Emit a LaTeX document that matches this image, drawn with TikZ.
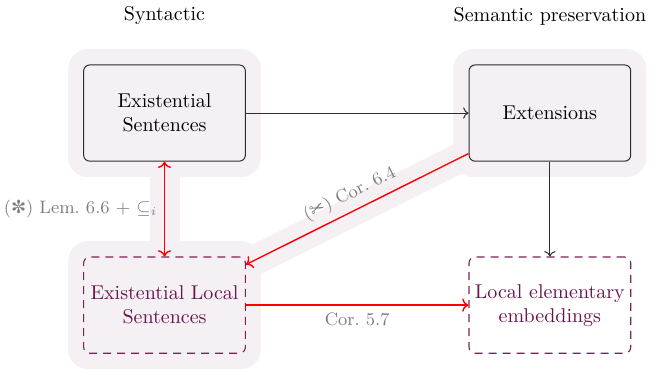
\documentclass[tikz,border=0pt]{standalone}
\usepackage{fontspec}
\newfontfamily\dingfont{DejaVu Sans}
\usetikzlibrary{arrows.meta, positioning}
\definecolor{halofill}{RGB}{245, 240, 244}
\definecolor{boxline}{RGB}{45, 45, 45}
\definecolor{plum}{RGB}{120, 35, 88}
\definecolor{plumtext}{RGB}{105, 20, 75}
\definecolor{labelgray}{RGB}{125, 125, 125}

\begin{document}
\begin{tikzpicture}[
  halo/.style={fill=halofill, rounded corners=10pt, minimum width=3.39cm, minimum height=2.25cm},
  haloband/.style={draw=halofill, line width=15pt},
  synbox/.style={draw=boxline, fill=halofill, rounded corners=3pt, line width=0.5pt, minimum width=2.83cm, minimum height=1.69cm, inner sep=2pt, text width=2.7cm, align=center},
  localbox/.style={draw=plum, dash pattern=on 4pt off 3pt, rounded corners=3pt, line width=0.55pt, minimum width=2.83cm, minimum height=1.69cm, inner sep=2pt, text width=2.7cm, align=center, text=plumtext},
  plainarrow/.style={-{To}, boxline, line width=0.5pt},
  redarrow/.style={-{To}, red, line width=0.7pt},
  reflabel/.style={text=labelgray, font=\small}
]
  \useasboundingbox (0, 0) rectangle (11.77, -6.467);

  % Column titles
  \node (syntitle) at (2.89, -0.28) {Syntactic};
  \node (semtitle) at (9.66, -0.28) {Semantic preservation};

  % Highlighted background
  \node[halo] (eshalo) at (2.89, -1.986) {};
  \node[halo] (exthalo) at (9.66, -1.986) {};
  \node[halo] (elshalo) at (2.89, -5.36) {};
  \draw[haloband] (eshalo.center) -- (elshalo.center);
  \draw[haloband] (exthalo.center) -- (elshalo.center);

  % Boxes
  \node[synbox] (es) at (2.89, -1.986) {Existential\\Sentences};
  \node[synbox] (ext) at (9.66, -1.986) {Extensions};
  \node[localbox] (els) at (2.89, -5.36) {Existential Local\\Sentences};
  \node[localbox] (lee) at (9.66, -5.36) {Local elementary\\embeddings};

  % Implications
  \draw[plainarrow] (es) -- (ext);
  \draw[plainarrow] (ext) -- (lee);
  \draw[redarrow, {To}-{To}] (es) -- (els) node[midway, left, reflabel] {({\dingfont ✼}) Lem.~6.6 + $\subseteq_i$};
  \draw[redarrow] (ext) -- (els) node[midway, above, sloped, reflabel] {({\dingfont ✂}) Cor.~6.4};
  \draw[redarrow] (els) -- (lee) node[midway, below, reflabel] {Cor.~5.7};
\end{tikzpicture}
\end{document}
